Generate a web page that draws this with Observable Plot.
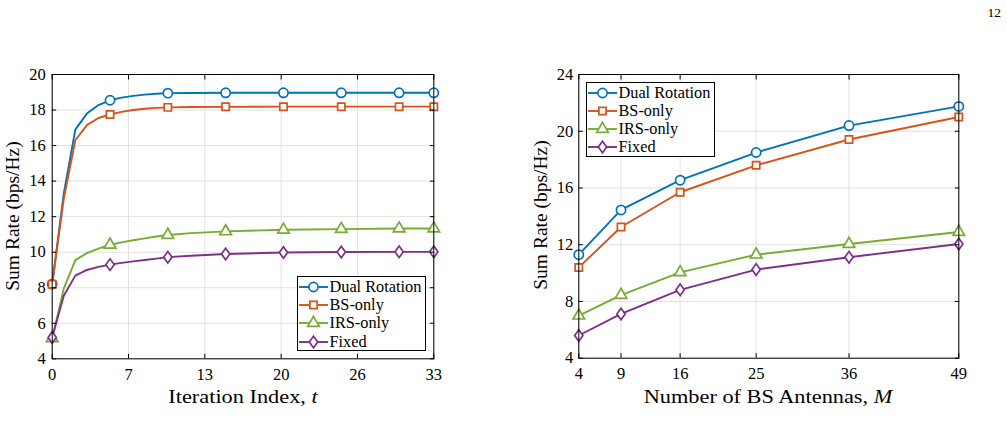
<!DOCTYPE html>
<html>
<head>
<meta charset="utf-8">
<script src="https://cdn.jsdelivr.net/npm/d3@7"></script>
<script src="https://cdn.jsdelivr.net/npm/@observablehq/plot@0.6"></script>
<style>
  body { margin: 0; background: #fff; }
  #page { position: relative; width: 1007px; height: 432px; overflow: hidden;
          font-family: "Liberation Serif", "Times New Roman", serif; color: #000; }
  .panel { position: absolute; top: 0; }
  .xlabel { position: absolute; font-size: 18px; line-height: 1; white-space: nowrap;
            transform: translateX(-50%) scaleX(1.24); }
  .ylabel { position: absolute; font-size: 19.5px; line-height: 1; white-space: nowrap;
            transform: translate(-50%, -50%) rotate(-90deg); }
  .legend { position: absolute; background: #fff; border: 1px solid #000; padding: 1px 0;
            box-sizing: border-box; }
  .legend .row { height: 18.2px; display: flex; align-items: center; font-size: 16.3px; white-space: nowrap; }
  .legend svg { display: block; flex: none; }
  .pageno { position: absolute; font-size: 13.5px; line-height: 1; }
</style>
</head>
<body>
<div id="page"></div>
<script>
// Series shared by both panels
const seriesNames = ["Dual Rotation", "BS-only", "IRS-only", "Fixed"];

// Left panel: sum rate versus iteration index t
const iterations = [0, 1, 2, 3, 4, 5, 6, 7, 8, 9, 10, 12, 15, 20, 25, 30, 33];
const dualIter  = [8.2, 13.3, 16.9, 17.8, 18.28, 18.55, 18.7, 18.8, 18.87, 18.92, 18.95, 18.96, 18.97, 18.97, 18.97, 18.97, 18.97];
const bsIter    = [8.2, 13.0, 16.3, 17.15, 17.55, 17.75, 17.9, 18.0, 18.07, 18.12, 18.15, 18.17, 18.18, 18.19, 18.19, 18.19, 18.19];
const irsIter   = [5.15, 7.95, 9.55, 9.95, 10.2, 10.42, 10.55, 10.67, 10.78, 10.88, 10.97, 11.07, 11.17, 11.26, 11.3, 11.33, 11.33];
const fixedIter = [5.2, 7.55, 8.68, 9.0, 9.17, 9.3, 9.4, 9.48, 9.56, 9.64, 9.72, 9.8, 9.9, 9.98, 10.01, 10.02, 10.02];
const markerIterations = [0, 5, 10, 15, 20, 25, 30, 33];
const iterTicks = [0, 6.6, 13.2, 19.8, 26.4, 33];
const iterTickLabels = ["0", "7", "13", "20", "26", "33"];
const rateTicksLeft = [4, 6, 8, 10, 12, 14, 16, 18, 20];

// Right panel: sum rate versus number of BS antennas M
const antennas = [4, 9, 16, 25, 36, 49];
const dualM  = [11.3, 14.45, 16.55, 18.5, 20.4, 21.75];
const bsM    = [10.4, 13.25, 15.7, 17.6, 19.42, 21.0];
const irsM   = [7.0, 8.45, 10.05, 11.3, 12.05, 12.9];
const fixedM = [5.6, 7.12, 8.82, 10.25, 11.12, 12.05];
const antennaTicks = [4, 9, 16, 25, 36, 49];
const antennaTickLabels = ["4", "9", "16", "25", "36", "49"];
const rateTicksRight = [4, 8, 12, 16, 20, 24];

// Styling for the four series
const seriesColors = ["#0072BD", "#D95319", "#77AC30", "#7E2F8E"];
const diamond = {
  draw(context, size) {
    const a = Math.sqrt(size / 1.44), b = 0.72 * a;
    context.moveTo(0, -a); context.lineTo(b, 0); context.lineTo(0, a); context.lineTo(-b, 0); context.closePath();
  }
};
const seriesSymbols = ["circle", "square", "triangle", diamond];
const legendSymbols = [d3.symbolCircle, d3.symbolSquare, d3.symbolTriangle, diamond];
const markerR = [4.6, 4.1, 4.3, 3.9];

const page = document.getElementById("page");

function drawPanel(cfg) {
  const rows = [];
  cfg.series.forEach((vals, s) => cfg.x.forEach((x, i) => rows.push({series: seriesNames[s], x, y: vals[i]})));
  const tickText = new Map(cfg.xTicks.map((t, i) => [t, cfg.xTickLabels[i]]));
  const gridStyle = {stroke: "#e2e2e2", strokeOpacity: 1, strokeWidth: 1};
  const marks = [
    Plot.gridX(cfg.xTicks, gridStyle),
    Plot.gridY(cfg.yTicks, gridStyle)
  ];
  seriesNames.forEach((name, s) => {
    const data = rows.filter(d => d.series === name);
    marks.push(Plot.line(data, {x: "x", y: "y", stroke: seriesColors[s], strokeWidth: 1.9}));
    marks.push(Plot.dot(data.filter(d => cfg.markerAt.includes(d.x)), {
      x: "x", y: "y", symbol: seriesSymbols[s], r: markerR[s],
      stroke: seriesColors[s], fill: "white", strokeWidth: 1.7
    }));
  });
  marks.push(
    Plot.frame({stroke: "#000", strokeWidth: 1}),
    Plot.axisX(cfg.xTicks, {anchor: "bottom", tickSize: 0, tickPadding: 9.5, tickFormat: d => tickText.get(d), label: null}),
    Plot.axisY(cfg.yTicks, {anchor: "left", tickSize: 0, tickPadding: cfg.yPad, label: null}),
    Plot.axisX(cfg.xTicks, {anchor: "bottom", tickSize: -4.5, fill: "none", label: null}),
    Plot.axisX(cfg.xTicks, {anchor: "top", tickSize: -4.5, fill: "none", label: null}),
    Plot.axisY(cfg.yTicks, {anchor: "left", tickSize: -4.5, fill: "none", label: null}),
    Plot.axisY(cfg.yTicks, {anchor: "right", tickSize: -4.5, fill: "none", label: null})
  );
  const chart = Plot.plot({
    width: cfg.width, height: 432,
    marginLeft: cfg.margin[0], marginRight: cfg.margin[1], marginTop: cfg.margin[2], marginBottom: cfg.margin[3],
    x: {type: "linear", domain: cfg.xDomain},
    y: {type: "linear", domain: cfg.yDomain},
    style: {fontFamily: "'Liberation Serif', 'Times New Roman', serif", fontSize: "16.5px", color: "#000", background: "transparent", overflow: "visible"},
    marks
  });
  const wrap = document.createElement("div");
  wrap.className = "panel";
  wrap.style.left = cfg.left + "px";
  wrap.appendChild(chart);
  page.appendChild(wrap);

  // axis titles
  const xl = document.createElement("div");
  xl.className = "xlabel";
  xl.style.left = cfg.xLabelX + "px";
  xl.style.top = "387.5px";
  xl.innerHTML = cfg.xLabel;
  page.appendChild(xl);
  const yl = document.createElement("div");
  yl.className = "ylabel";
  yl.style.left = cfg.yLabelX + "px";
  yl.style.top = cfg.yLabelY + "px";
  yl.textContent = "Sum Rate (bps/Hz)";
  page.appendChild(yl);

  // legend
  const lg = document.createElement("div");
  lg.className = "legend";
  Object.assign(lg.style, {left: cfg.legend[0] + "px", top: cfg.legend[1] + "px", width: "129.5px", height: "75px"});
  seriesNames.forEach((name, s) => {
    const row = document.createElement("div");
    row.className = "row";
    const sw = d3.create("svg").attr("width", 31).attr("height", 18).style("margin-right", "1px");
    sw.append("line").attr("x1", 1).attr("x2", 30).attr("y1", 9).attr("y2", 9)
      .attr("stroke", seriesColors[s]).attr("stroke-width", 1.9);
    const g = sw.append("g").attr("transform", "translate(15.5,9)");
    if (s === 0) {
      g.append("circle").attr("r", markerR[s]).attr("fill", "white").attr("stroke", seriesColors[s]).attr("stroke-width", 1.7);
    } else {
      g.append("path").attr("d", d3.symbol(legendSymbols[s], Math.PI * markerR[s] * markerR[s])())
        .attr("fill", "white").attr("stroke", seriesColors[s]).attr("stroke-width", 1.7);
    }
    row.appendChild(sw.node());
    const label = document.createElement("span");
    label.textContent = name;
    row.appendChild(label);
    lg.appendChild(row);
  });
  page.appendChild(lg);
}

drawPanel({
  left: 0, width: 500, margin: [51.7, 66.7, 74, 73.7],
  x: iterations, series: [dualIter, bsIter, irsIter, fixedIter], markerAt: markerIterations,
  xDomain: [0, 33], yDomain: [4, 20],
  xTicks: iterTicks, xTickLabels: iterTickLabels, yTicks: rateTicksLeft, yPad: 6.5,
  xLabel: "Iteration Index, <i>t</i>", xLabelX: 242.5,
  yLabelX: 13.4, yLabelY: 216,
  legend: [296.5, 276]
});

drawPanel({
  left: 510, width: 497, margin: [68.3, 48.7, 74, 74.3],
  x: antennas, series: [dualM, bsM, irsM, fixedM], markerAt: antennas,
  xDomain: [4, 49], yDomain: [4, 24],
  xTicks: antennaTicks, xTickLabels: antennaTickLabels, yTicks: rateTicksRight, yPad: 5.5,
  xLabel: "Number of BS Antennas, <i>M</i>", xLabelX: 768.3,
  yLabelX: 540.5, yLabelY: 215,
  legend: [585.5, 81.5]
});

// page number
const pn = document.createElement("div");
pn.className = "pageno";
Object.assign(pn.style, {right: "6px", top: "5.5px"});
pn.textContent = "12";
page.appendChild(pn);
</script>
</body>
</html>
